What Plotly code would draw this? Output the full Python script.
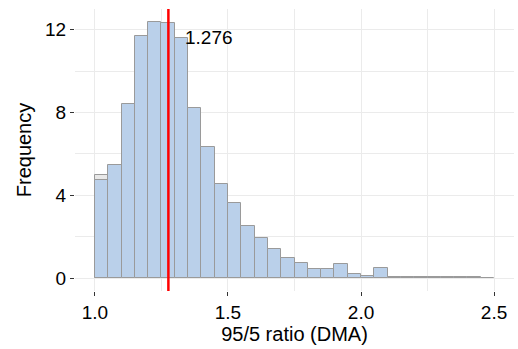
import plotly.graph_objects as go

bin_starts = [1.00, 1.05, 1.10, 1.15, 1.20, 1.25, 1.30, 1.35, 1.40, 1.45,
              1.50, 1.55, 1.60, 1.65, 1.70, 1.75, 1.80, 1.85, 1.90, 1.95,
              2.00, 2.05, 2.10, 2.15, 2.20, 2.25, 2.30, 2.35, 2.40, 2.45]
counts = [4.74, 5.46, 8.42, 11.68, 12.37, 12.32, 11.58, 8.22, 6.35, 4.53,
          3.61, 2.52, 1.96, 1.40, 0.97, 0.71, 0.43, 0.45, 0.67, 0.21,
          0.11, 0.48, 0.07, 0.04, 0.04, 0.04, 0.04, 0.05, 0.04, 0.02]
back_starts = [1.00]
back_counts = [5.00]
bin_width = 0.05
median_value = 1.276
median_label = "1.276"

centers = [s + bin_width / 2 for s in bin_starts]
back_centers = [s + bin_width / 2 for s in back_starts]

fig = go.Figure()
fig.add_trace(go.Bar(x=back_centers, y=back_counts, width=bin_width,
                     marker=dict(color="#e8e8e8", line=dict(color="#9a9a9a", width=1)),
                     hoverinfo="skip"))
fig.add_trace(go.Bar(x=centers, y=counts, width=bin_width,
                     marker=dict(color="#bad0ea", line=dict(color="#9a9a9a", width=1))))

fig.add_shape(type="line", x0=median_value, x1=median_value, y0=0, y1=1,
              xref="x", yref="paper", line=dict(color="#ff0000", width=2.5))
fig.add_annotation(x=median_value, y=11.6, text=median_label, showarrow=False,
                   xanchor="left", yanchor="middle", xshift=15,
                   font=dict(size=19, color="black"))

fig.update_layout(
    width=518, height=349,
    margin=dict(l=75, r=4, t=9, b=58),
    paper_bgcolor="white", plot_bgcolor="white",
    barmode="overlay", bargap=0, showlegend=False,
    font=dict(family="Liberation Sans, Arial, sans-serif", size=19, color="black"),
)
fig.update_xaxes(range=[0.925, 2.575], tickvals=[1.0, 1.5, 2.0, 2.5],
                 ticktext=["1.0", "1.5", "2.0", "2.5"],
                 showgrid=True, gridcolor="#ebebeb", gridwidth=1,
                 minor=dict(dtick=0.25, tick0=1.0, showgrid=True, gridcolor="#ebebeb"),
                 ticks="outside", ticklen=4, tickcolor="#333333",
                 zeroline=False, showline=False,
                 title=dict(text="95/5 ratio (DMA)", font=dict(size=20), standoff=4))
fig.update_yaxes(range=[-0.62, 13.0], tickvals=[0, 4, 8, 12],
                 showgrid=True, gridcolor="#ebebeb", gridwidth=1,
                 minor=dict(dtick=2, tick0=0, showgrid=True, gridcolor="#ebebeb"),
                 ticks="outside", ticklen=4, tickcolor="#333333",
                 zeroline=False, showline=False,
                 title=dict(text="Frequency", font=dict(size=20), standoff=8))

fig.write_html("out.html")
